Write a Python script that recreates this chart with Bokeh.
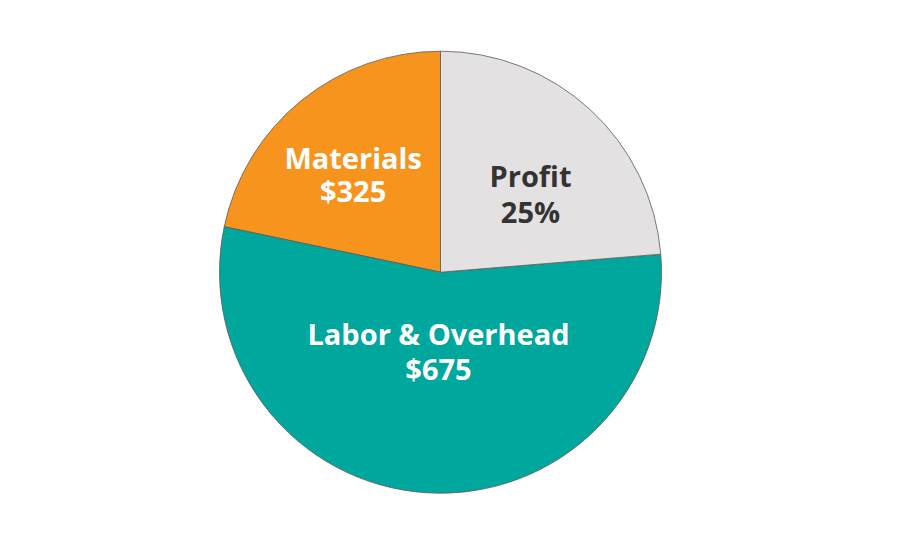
import numpy as np
from bokeh.plotting import figure
from bokeh.models import Range1d, ColumnDataSource
from bokeh.embed import file_html
from bokeh.resources import INLINE
from bokeh.core.properties import value

# Data (slice shares, in percent)
categories = ["Materials", "Labor & Overhead", "Profit"]
shares = [21.7, 54.6, 23.7]
label_top = ["Materials", "Labor & Overhead", "Profit"]
label_bottom = ["$325", "$675", "25%"]
colors = ["#F7941E", "#00A79D", "#E3E1E1"]
text_colors = ["#FFFFFF", "#FFFFFF", "#333333"]

W, H = 884, 534
p = figure(width=W, height=H, output_backend="svg", toolbar_location=None,
           x_range=Range1d(0, W), y_range=Range1d(0, H), min_border=0)
p.axis.visible = False
p.grid.visible = False
p.outline_line_color = None
p.background_fill_color = "white"
p.border_fill_color = "white"

cx, cy, r = 440, 262.3, 221
fr = np.array(shares) / sum(shares)
ends = np.pi / 2 + 2 * np.pi * np.cumsum(fr)
starts = np.concatenate([[np.pi / 2], ends[:-1]])

src = ColumnDataSource(dict(cat=categories, start=starts, end=ends, color=colors))
p.wedge(x=cx, y=cy, radius=r, start_angle="start", end_angle="end",
        fill_color="color", line_color="#5a5a5a", line_width=0.8, source=src)

# label layout (centres and baselines, in plot pixels)
lx = [352.6, 438, 530]
ly_top = [377, 201, 359]
ly_bot = [344, 166, 323]

tsrc = ColumnDataSource(dict(x=lx, yt=ly_top, yb=ly_bot, t1=label_top, t2=label_bottom, tc=text_colors))
for ycol, tcol in (("yt", "t1"), ("yb", "t2")):
    p.text(x="x", y=ycol, text=tcol, text_color="tc", source=tsrc,
           text_align="center", text_baseline="alphabetic",
           text_font=value("Open Sans"), text_font_style="bold",
           text_font_size="29px")

open("out.html", "w").write(file_html(p, INLINE))
